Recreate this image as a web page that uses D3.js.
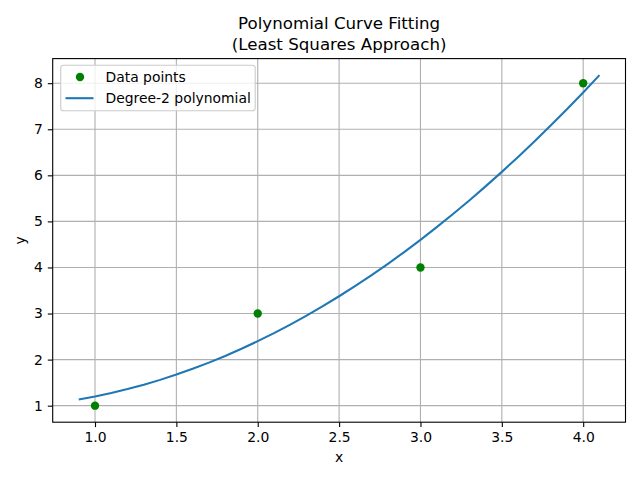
<!DOCTYPE html>
<html><head><meta charset="utf-8">
<script src="https://cdn.jsdelivr.net/npm/d3@7"></script>
<style>body{margin:0;background:#fff}svg{display:block}text{font-family:"DejaVu Sans",sans-serif;fill:#000}</style>
</head><body>
<script>
// Data points
const dataX = [1, 2, 3, 4];
const dataY = [1, 3, 4, 8];
// Degree-2 least-squares fit, sampled curve values
const curveX = [0.9,1.0,1.1,1.2,1.3,1.4,1.5,1.6,1.7,1.8,1.9,2.0,2.1,2.2,2.3,2.4,2.5,2.6,2.7,2.8,2.9,3.0,3.1,3.2,3.3,3.4,3.5,3.6,3.7,3.8,3.9,4.0,4.1];
const curveY = [1.135,1.2,1.275,1.36,1.455,1.56,1.675,1.8,1.935,2.08,2.235,2.4,2.575,2.76,2.955,3.16,3.375,3.6,3.835,4.08,4.335,4.6,4.875,5.16,5.455,5.76,6.075,6.4,6.735,7.08,7.435,7.8,8.175];
const xTicks = [1.0,1.5,2.0,2.5,3.0,3.5,4.0];
const yTicks = [1,2,3,4,5,6,7,8];
const titleLines = ["Polynomial Curve Fitting","(Least Squares Approach)"];
const legendLabels = ["Data points","Degree-2 polynomial"];

const W=640,H=480;
const L=52.7,R=625.5,T=58.6,B=422.2;
const svg=d3.select("body").append("svg").attr("width",W).attr("height",H);
const x=d3.scaleLinear().domain([0.74,4.26]).range([L,R]);
const y=d3.scaleLinear().domain([0.64125,8.53375]).range([B,T]);

// grid
const g=svg.append("g");
g.selectAll(".gx").data(xTicks).enter().append("line")
 .attr("x1",d=>x(d)).attr("x2",d=>x(d)).attr("y1",T).attr("y2",B)
 .attr("stroke","#b0b0b0").attr("stroke-width",1.1);
g.selectAll(".gy").data(yTicks).enter().append("line")
 .attr("y1",d=>y(d)).attr("y2",d=>y(d)).attr("x1",L).attr("x2",R)
 .attr("stroke","#b0b0b0").attr("stroke-width",1.1);

// curve
const pts=curveX.map((v,i)=>[v,curveY[i]]);
svg.append("path").datum(pts)
 .attr("d",d3.line().x(d=>x(d[0])).y(d=>y(d[1])))
 .attr("fill","none").attr("stroke","#1f77b4").attr("stroke-width",2.08);

// points
svg.selectAll(".pt").data(dataX.map((v,i)=>[v,dataY[i]])).enter().append("circle")
 .attr("cx",d=>x(d[0])).attr("cy",d=>y(d[1])).attr("r",4.2).attr("fill","green");

// axes
const xa=svg.append("g").attr("transform",`translate(0,${B})`)
 .call(d3.axisBottom(x).tickValues(xTicks).tickFormat(d3.format(".1f")).tickSize(4.9).tickPadding(4.9));
const ya=svg.append("g").attr("transform",`translate(${L},0)`)
 .call(d3.axisLeft(y).tickValues(yTicks).tickFormat(d3.format("d")).tickSize(4.9).tickPadding(4.9));
[xa,ya].forEach(a=>{a.select(".domain").remove();a.selectAll("line").attr("stroke","#000").attr("stroke-width",1.1);
 a.selectAll("text").style("font-family","DejaVu Sans").style("font-size","13.9px").attr("fill","#000");});

// spines
svg.append("rect").attr("x",L).attr("y",T).attr("width",R-L).attr("height",B-T)
 .attr("fill","none").attr("stroke","#000").attr("stroke-width",1.1);

// labels
svg.append("text").attr("x",(L+R)/2).attr("y",462).attr("text-anchor","middle").style("font-size","13.9px").text("x");
svg.append("text").attr("transform",`translate(25,${(T+B)/2}) rotate(-90)`).attr("text-anchor","middle").style("font-size","13.9px").text("y");
svg.selectAll(".title").data(titleLines).enter().append("text")
 .attr("x",(L+R)/2).attr("y",(d,i)=>29+i*20.5).attr("text-anchor","middle").style("font-size","16.67px").text(d=>d);

// legend
const lg=svg.append("g");
lg.append("rect").attr("x",60.7).attr("y",65.2).attr("width",194.5).attr("height",45.5).attr("rx",2.8)
 .attr("fill","#fff").attr("fill-opacity",0.8).attr("stroke","#cccccc").attr("stroke-width",1.1);
lg.append("circle").attr("cx",80).attr("cy",77).attr("r",4.2).attr("fill","green");
lg.append("line").attr("x1",65.5).attr("x2",93.5).attr("y1",98.2).attr("y2",98.2).attr("stroke","#1f77b4").attr("stroke-width",2.08);
lg.selectAll(".lt").data(legendLabels).enter().append("text")
 .attr("x",105.5).attr("y",(d,i)=>82+i*21.3).style("font-size","13.9px").text(d=>d);
</script>
</body></html>
